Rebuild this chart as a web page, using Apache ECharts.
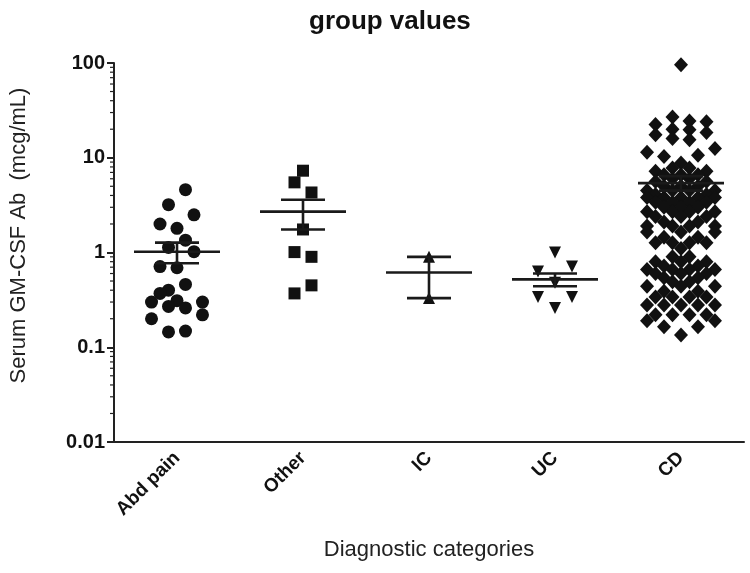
<!DOCTYPE html>
<html>
<head>
<meta charset="utf-8">
<script src="https://cdn.jsdelivr.net/npm/echarts@6/dist/echarts.min.js"></script>
<style>
html,body{margin:0;padding:0;background:#fff;}
#chart{width:750px;height:573px;}
</style>
</head>
<body>
<div id="chart"></div>
<script>
const titleText = 'group values';
const categories = ['Abd pain', 'Other', 'IC', 'UC', 'CD'];
const yTicks = [0.01, 0.1, 1, 10, 100];
const minorTickValues = [0.02,0.03,0.04,0.05,0.06,0.07,0.08,0.09,
  0.2,0.3,0.4,0.5,0.6,0.7,0.8,0.9, 2,3,4,5,6,7,8,9, 20,30,40,50,60,70,80,90];

// Abd pain (circles)
const abdValues = [4.6, 3.2, 2.5, 2.0, 1.8, 1.35, 1.13, 1.02, 0.71, 0.69, 0.46, 0.40, 0.37, 0.30, 0.31, 0.30, 0.27, 0.26, 0.22, 0.20, 0.145, 0.148];
const abdSteps  = [1, -1, 2, -2, 0, 1, -1, 2, -2, 0, 1, -1, -2, -3, 0, 3, -1, 1, 3, -3, -1, 1];
// Other (squares)
const otherValues = [7.3, 5.5, 4.3, 1.75, 1.01, 0.9, 0.45, 0.37];
const otherSteps  = [0, -1, 1, 0, -1, 1, 1, -1];
// IC (triangles)
const icValues = [0.9, 0.33];
const icSteps  = [0, 0];
// UC (inverted triangles)
const ucValues = [1.0, 0.71, 0.63, 0.48, 0.34, 0.34, 0.26];
const ucSteps  = [0, 2, -2, 0, -2, 2, 0];
// CD (diamonds)
const cdValues = [96, 27, 24.5, 24, 22.5, 20, 19.8, 18.5, 17.5, 16, 15.5, 12.5, 11.4, 10.6, 10.3, 8.8,
  7.8, 7.8, 7.2, 7.2, 6.6, 6.6, 6.6, 6.0, 6.0, 5.6, 5.6, 5.0, 5.0, 5.0,
  4.5, 4.5, 4.5, 4.5, 4.1, 4.1, 3.8, 3.8, 3.8, 3.8, 3.8, 3.4, 3.4, 3.4, 3.4,
  3.0, 3.0, 3.0, 2.7, 2.7, 2.7, 2.7, 2.4, 2.4, 2.4, 2.1, 2.1, 1.9, 1.9, 1.9, 1.9,
  1.65, 1.65, 1.65, 1.45, 1.45, 1.27, 1.27, 1.27, 1.27,
  1.1, 0.9, 0.9, 0.8, 0.8, 0.8, 0.72, 0.72, 0.66, 0.66, 0.66, 0.66, 0.6, 0.6, 0.6,
  0.54, 0.54, 0.49, 0.49, 0.44, 0.44, 0.44, 0.39, 0.39, 0.34, 0.34, 0.34, 0.34,
  0.28, 0.28, 0.28, 0.28, 0.28, 0.22, 0.22, 0.22, 0.22, 0.19, 0.19, 0.165, 0.165, 0.135];
const cdSteps = [0, -1, 1, 3, -3, -1, 1, 3, -3, -1, 1, 4, -4, 2, -2, 0,
  -1, 1, -3, 3, -2, 0, 2, -1, 1, -3, 3, -2, 0, 2,
  -4, -1, 1, 4, -3, 3, -4, -2, 0, 2, 4, -3, -1, 1, 3,
  -2, 0, 2, -4, -1, 1, 4, -3, 0, 3, -2, 2, -4, -1, 1, 4,
  -4, 0, 4, -2, 2, -3, -1, 1, 3,
  0, -1, 1, -3, 0, 3, -2, 2, -4, -1, 1, 4, -3, 0, 3,
  -2, 2, -1, 1, -4, 0, 4, -2, 2, -3, -1, 1, 3,
  -4, -2, 0, 2, 4, -3, -1, 1, 3, -4, 4, -2, 2, 0];

// mean and SEM bounds
const means   = [1.02, 2.7, 0.615, 0.52, 5.4];
const semLow  = [0.77, 1.75, 0.33, 0.44, 4.5];
const semHigh = [1.27, 3.6, 0.9, 0.6, 6.4];

const STEP = 0.0674; // horizontal spread unit, in category widths
function pts(ci, vals, steps) {
  return vals.map((v, i) => [ci + steps[i] * STEP, v]);
}

const INK = '#111';
const chart = echarts.init(document.getElementById('chart'));
const scatterBase = {
  type: 'scatter', xAxisIndex: 1, yAxisIndex: 0,
  itemStyle: { color: INK, opacity: 1 }, z: 2, silent: true
};

chart.setOption({
  animation: false,
  backgroundColor: '#fff',
  title: {
    text: titleText, left: 304, top: 4,
    textStyle: { fontFamily: 'Liberation Sans', fontWeight: 'bold', fontSize: 26, color: '#111' }
  },
  grid: { left: 113, right: 6, top: 63, bottom: 131 },
  xAxis: [
    {
      type: 'category', data: categories, boundaryGap: true,
      name: 'Diagnostic categories', nameLocation: 'middle', nameGap: 97,
      nameTextStyle: { fontFamily: 'Liberation Sans', fontSize: 22, color: '#222' },
      axisLine: { onZero: false, lineStyle: { color: '#222', width: 2 } },
      axisTick: { alignWithLabel: true, length: 7, lineStyle: { color: '#222', width: 2 } },
      axisLabel: { rotate: 45, margin: 13, fontFamily: 'Liberation Sans', fontWeight: 'bold', fontSize: 19, color: '#111' },
      splitLine: { show: false }
    },
    { type: 'value', min: -0.5, max: 4.5, show: false, axisLine: { onZero: false } }
  ],
  yAxis: {
    type: 'log', logBase: 10, min: 0.01, max: 100,
    name: 'Serum GM-CSF Ab  (mcg/mL)', nameLocation: 'middle', nameGap: 84,
    nameTextStyle: { fontFamily: 'Liberation Sans', fontSize: 22, color: '#222', padding: [0, 0, 0, 34] },
    axisLine: { show: true, onZero: false, lineStyle: { color: '#222', width: 2 } },
    axisTick: { show: true, length: 7, lineStyle: { color: '#222', width: 2 } },
    axisLabel: {
      margin: 9, fontFamily: 'Liberation Sans', fontWeight: 'bold', fontSize: 20, color: '#111',
      formatter: v => String(+Number(v).toPrecision(3))
    },
    splitLine: { show: false }
  },
  series: [
    Object.assign({}, scatterBase, { data: pts(0, abdValues, abdSteps), symbol: 'circle', symbolSize: 13 }),
    Object.assign({}, scatterBase, { data: pts(1, otherValues, otherSteps), symbol: 'rect', symbolSize: 12 }),
    Object.assign({}, scatterBase, { data: pts(2, icValues, icSteps), symbol: 'triangle', symbolSize: 12 }),
    Object.assign({}, scatterBase, { data: pts(3, ucValues, ucSteps), symbol: 'triangle', symbolRotate: 180, symbolSize: 12 }),
    Object.assign({}, scatterBase, { data: pts(4, cdValues, cdSteps), symbol: 'diamond', symbolSize: [14, 15] }),
    {
      type: 'custom', xAxisIndex: 1, yAxisIndex: 0, z: 5, silent: true, clip: false,
      data: categories.map((c, i) => [i, means[i], semLow[i], semHigh[i]]),
      renderItem: function (params, api) {
        const i = api.value(0);
        const m = api.coord([i, api.value(1)]);
        const lo = api.coord([i, api.value(2)]);
        const hi = api.coord([i, api.value(3)]);
        const st = { stroke: '#1a1a1a', lineWidth: 2.6 };
        const W = 43, C = 22;
        return {
          type: 'group', children: [
            { type: 'line', shape: { x1: m[0] - W, y1: m[1], x2: m[0] + W, y2: m[1] }, style: st },
            { type: 'line', shape: { x1: lo[0], y1: lo[1], x2: hi[0], y2: hi[1] }, style: st },
            { type: 'line', shape: { x1: lo[0] - C, y1: lo[1], x2: lo[0] + C, y2: lo[1] }, style: st },
            { type: 'line', shape: { x1: hi[0] - C, y1: hi[1], x2: hi[0] + C, y2: hi[1] }, style: st }
          ]
        };
      }
    },
    {
      type: 'custom', xAxisIndex: 1, yAxisIndex: 0, z: 5, silent: true, clip: false,
      data: minorTickValues.map(v => [-0.5, v]),
      renderItem: function (params, api) {
        const p = api.coord([api.value(0), api.value(1)]);
        return { type: 'line', shape: { x1: p[0] - 4, y1: p[1], x2: p[0], y2: p[1] }, style: { stroke: '#222', lineWidth: 1.2 } };
      }
    }
  ]
});
</script>
</body>
</html>
